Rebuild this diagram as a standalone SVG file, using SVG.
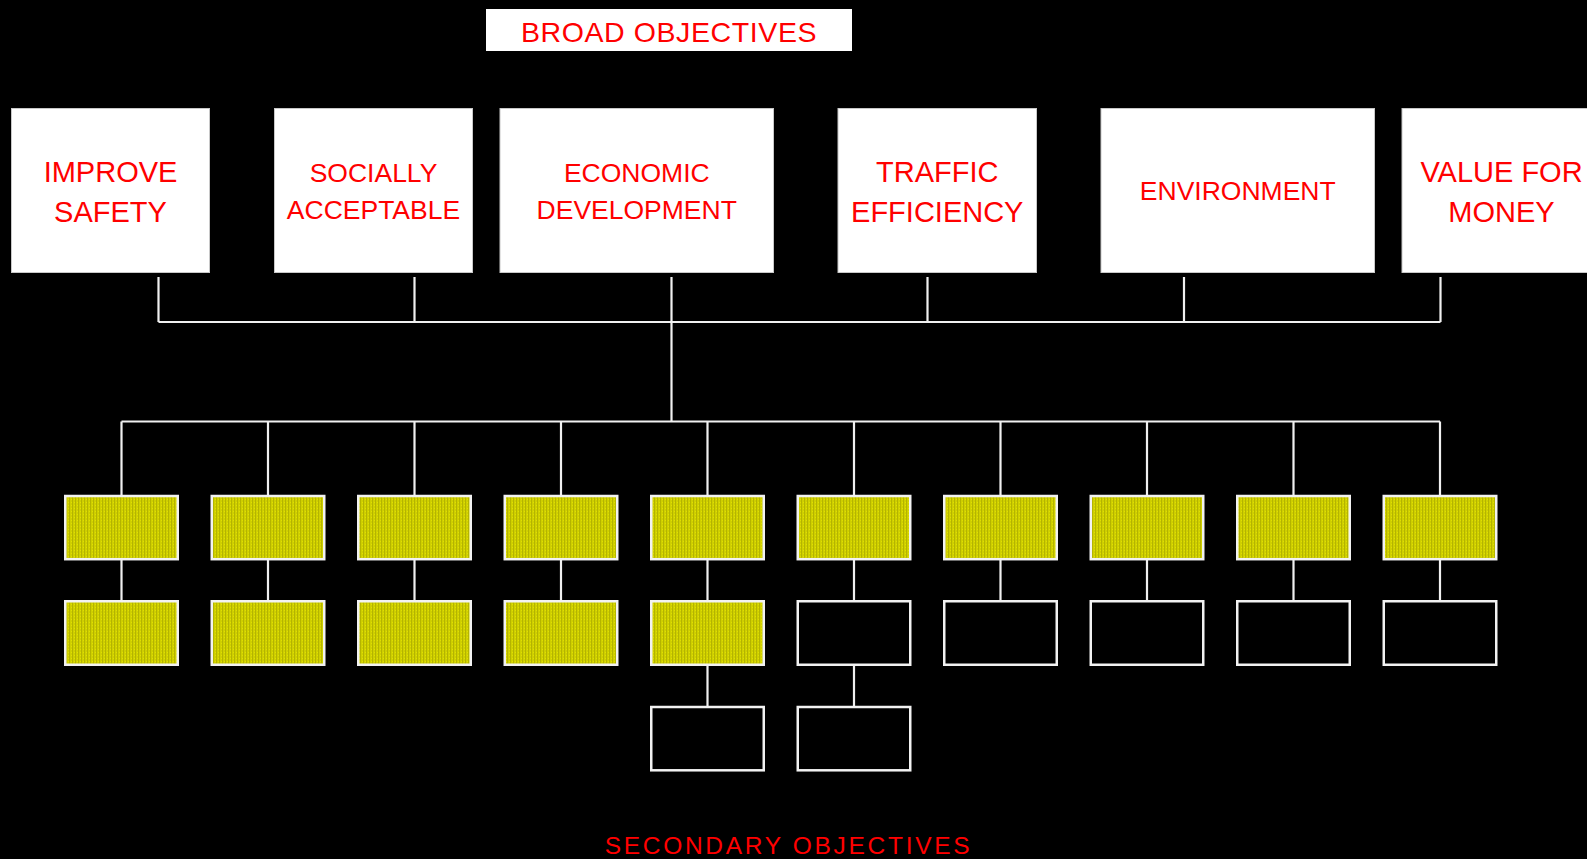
<svg xmlns="http://www.w3.org/2000/svg" width="1587" height="859" viewBox="0 0 1587 859">
  <defs>
    <!-- fine dotted olive texture for the filled secondary boxes -->
    <pattern id="olive" width="3" height="3" patternUnits="userSpaceOnUse">
      <rect width="3" height="3" fill="#cfcf00"/>
      <rect x="0" y="0" width="1" height="3" fill="#b4b400"/>
      <rect x="2" y="1" width="1" height="1" fill="#e0e000"/>
    </pattern>
    <style>
      .bg { fill: #000000; }
      .broad { fill: #ffffff; stroke: #c8c8c8; stroke-width: 1; }
      .lbl { font-family: "Liberation Sans", Arial, sans-serif; fill: #ff0000; text-anchor: middle; }
      .big { font-size: 29px; }
      .mid { font-size: 26.5px; }
      .sec-fill { fill: url(#olive); stroke: #f2f2f2; stroke-width: 2.5; }
      .sec-empty { fill: #000000; stroke: #f2f2f2; stroke-width: 2.5; }
      .wire { fill: none; stroke: #f0f0f0; stroke-width: 2.2; }
    </style>
  </defs>

  <rect class="bg" x="0" y="0" width="1587" height="859"/>

  <!-- title -->
  <g id="title-broad">
    <rect x="486" y="9" width="366" height="42" fill="#ffffff"/>
    <text class="lbl" x="669" y="41.5" font-size="28.5" letter-spacing="0.6">BROAD OBJECTIVES</text>
  </g>

  <!-- broad objectives -->
  <g id="obj-safety">
    <rect class="broad" x="11.5" y="108.5" width="198" height="164"/>
    <text class="lbl big" x="110.5" y="181.7">IMPROVE</text>
    <text class="lbl big" x="110.5" y="222.3">SAFETY</text>
  </g>
  <g id="obj-social">
    <rect class="broad" x="274.5" y="108.5" width="198" height="164"/>
    <text class="lbl mid" x="373.5" y="181.7">SOCIALLY</text>
    <text class="lbl mid" x="373.5" y="219">ACCEPTABLE</text>
  </g>
  <g id="obj-economic">
    <rect class="broad" x="500" y="108.5" width="273.5" height="164"/>
    <text class="lbl mid" x="636.75" y="181.7">ECONOMIC</text>
    <text class="lbl mid" x="636.75" y="219">DEVELOPMENT</text>
  </g>
  <g id="obj-traffic">
    <rect class="broad" x="838" y="108.5" width="198.5" height="164"/>
    <text class="lbl big" x="937.25" y="181.7">TRAFFIC</text>
    <text class="lbl big" x="937.25" y="222.3">EFFICIENCY</text>
  </g>
  <g id="obj-environment">
    <rect class="broad" x="1101" y="108.5" width="273.5" height="164"/>
    <text class="lbl mid" x="1237.75" y="200.3">ENVIRONMENT</text>
  </g>
  <g id="obj-value">
    <rect class="broad" x="1402" y="108.5" width="199" height="164"/>
    <text class="lbl big" x="1501.5" y="181.7">VALUE FOR</text>
    <text class="lbl big" x="1501.5" y="222.3">MONEY</text>
  </g>

  <!-- connectors -->
  <g id="connectors" class="wire">
    <path d="M158.5 277V322M414.5 277V322M671.5 277V322M927.5 277V322M1184 277V322M1440.5 277V322"/>
    <path d="M158.5 322H1440.5"/>
    <path d="M671.5 322V421.5"/>
    <path d="M121.5 421.5H1440"/>
    <path d="M121.5 421.5V496M268 421.5V496M414.5 421.5V496M561 421.5V496M707.5 421.5V496M854 421.5V496M1000.5 421.5V496M1147 421.5V496M1293.5 421.5V496M1440 421.5V496"/>
    <path d="M121.5 559V601M268 559V601M414.5 559V601M561 559V601M707.5 559V601M854 559V601M1000.5 559V601M1147 559V601M1293.5 559V601M1440 559V601"/>
    <path d="M707.5 665V707M854 665V707"/>
  </g>

  <!-- secondary objectives: first row -->
  <g id="sec-1-1"><rect class="sec-fill" x="65.25" y="496" width="112.5" height="63.2"/></g>
  <g id="sec-2-1"><rect class="sec-fill" x="211.75" y="496" width="112.5" height="63.2"/></g>
  <g id="sec-3-1"><rect class="sec-fill" x="358.25" y="496" width="112.5" height="63.2"/></g>
  <g id="sec-4-1"><rect class="sec-fill" x="504.75" y="496" width="112.5" height="63.2"/></g>
  <g id="sec-5-1"><rect class="sec-fill" x="651.25" y="496" width="112.5" height="63.2"/></g>
  <g id="sec-6-1"><rect class="sec-fill" x="797.75" y="496" width="112.5" height="63.2"/></g>
  <g id="sec-7-1"><rect class="sec-fill" x="944.25" y="496" width="112.5" height="63.2"/></g>
  <g id="sec-8-1"><rect class="sec-fill" x="1090.75" y="496" width="112.5" height="63.2"/></g>
  <g id="sec-9-1"><rect class="sec-fill" x="1237.25" y="496" width="112.5" height="63.2"/></g>
  <g id="sec-10-1"><rect class="sec-fill" x="1383.75" y="496" width="112.5" height="63.2"/></g>

  <!-- second row -->
  <g id="sec-1-2"><rect class="sec-fill" x="65.25" y="601.25" width="112.5" height="63.5"/></g>
  <g id="sec-2-2"><rect class="sec-fill" x="211.75" y="601.25" width="112.5" height="63.5"/></g>
  <g id="sec-3-2"><rect class="sec-fill" x="358.25" y="601.25" width="112.5" height="63.5"/></g>
  <g id="sec-4-2"><rect class="sec-fill" x="504.75" y="601.25" width="112.5" height="63.5"/></g>
  <g id="sec-5-2"><rect class="sec-fill" x="651.25" y="601.25" width="112.5" height="63.5"/></g>
  <g id="sec-6-2"><rect class="sec-empty" x="797.75" y="601.25" width="112.5" height="63.5"/></g>
  <g id="sec-7-2"><rect class="sec-empty" x="944.25" y="601.25" width="112.5" height="63.5"/></g>
  <g id="sec-8-2"><rect class="sec-empty" x="1090.75" y="601.25" width="112.5" height="63.5"/></g>
  <g id="sec-9-2"><rect class="sec-empty" x="1237.25" y="601.25" width="112.5" height="63.5"/></g>
  <g id="sec-10-2"><rect class="sec-empty" x="1383.75" y="601.25" width="112.5" height="63.5"/></g>

  <!-- third row -->
  <g id="sec-5-3"><rect class="sec-empty" x="651.25" y="707" width="112.5" height="63.3"/></g>
  <g id="sec-6-3"><rect class="sec-empty" x="797.75" y="707" width="112.5" height="63.3"/></g>

  <!-- caption -->
  <g id="title-secondary">
    <text class="lbl" x="788.5" y="854.3" font-size="24.5" letter-spacing="2.7">SECONDARY OBJECTIVES</text>
  </g>
</svg>
